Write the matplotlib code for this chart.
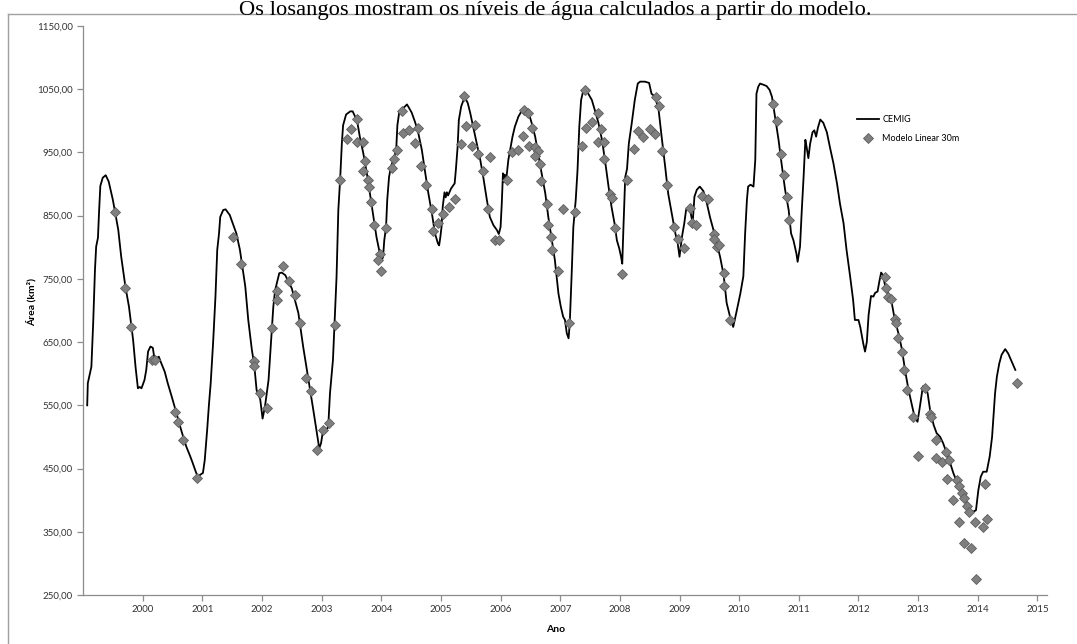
import matplotlib
matplotlib.use("Agg")
import matplotlib.pyplot as plt
from matplotlib.lines import Line2D
from matplotlib.ticker import FuncFormatter

# nível do reservatório (área inundada) - série CEMIG
cemig_ano = [
    1999.07, 1999.08, 1999.14, 1999.17, 1999.20, 1999.22, 1999.25, 1999.27, 1999.29, 1999.33,
    1999.38, 1999.43, 1999.50, 1999.59, 1999.64, 1999.71, 1999.77, 1999.84, 1999.88, 1999.92,
    1999.95, 1999.98, 2000.01, 2000.03, 2000.06, 2000.09, 2000.13, 2000.17, 2000.20, 2000.24,
    2000.27, 2000.31, 2000.37, 2000.42, 2000.48, 2000.55, 2000.62, 2000.68, 2000.73, 2000.79,
    2000.83, 2000.89, 2000.93, 2000.96, 2001.01, 2001.04, 2001.08, 2001.11, 2001.14, 2001.18,
    2001.22, 2001.25, 2001.28, 2001.30, 2001.35, 2001.39, 2001.46, 2001.51, 2001.57, 2001.63,
    2001.68, 2001.72, 2001.77, 2001.83, 2001.87, 2001.91, 2001.97, 2002.01, 2002.05, 2002.11,
    2002.15, 2002.19, 2002.22, 2002.29, 2002.33, 2002.39, 2002.50, 2002.61, 2002.69, 2002.78,
    2002.86, 2002.92, 2002.96, 2002.99, 2003.02, 2003.06, 2003.11, 2003.14, 2003.19, 2003.25,
    2003.28, 2003.31, 2003.34, 2003.36, 2003.41, 2003.48, 2003.52, 2003.56, 2003.60, 2003.64,
    2003.70, 2003.76, 2003.81, 2003.87, 2003.92, 2003.97, 2004.01, 2004.03, 2004.05, 2004.08,
    2004.10, 2004.13, 2004.16, 2004.20, 2004.25, 2004.27, 2004.30, 2004.34, 2004.40, 2004.43,
    2004.45, 2004.51, 2004.57, 2004.62, 2004.68, 2004.73, 2004.79, 2004.85, 2004.90, 2004.95,
    2004.97, 2004.99, 2005.01, 2005.03, 2005.06, 2005.08, 2005.10, 2005.12, 2005.17, 2005.23,
    2005.25, 2005.28, 2005.30, 2005.34, 2005.38, 2005.40, 2005.45, 2005.49, 2005.54, 2005.60,
    2005.66, 2005.71, 2005.77, 2005.82, 2005.88, 2005.94, 2005.97, 2006.00, 2006.02, 2006.04,
    2006.05, 2006.07, 2006.09, 2006.13, 2006.16, 2006.20, 2006.24, 2006.30, 2006.35, 2006.41,
    2006.47, 2006.52, 2006.58, 2006.63, 2006.69, 2006.75, 2006.80, 2006.86, 2006.91, 2006.97,
    2007.01, 2007.05, 2007.08, 2007.11, 2007.14, 2007.16, 2007.19, 2007.22, 2007.26, 2007.29,
    2007.32, 2007.35, 2007.39, 2007.43, 2007.47, 2007.53, 2007.58, 2007.64, 2007.70, 2007.75,
    2007.81, 2007.86, 2007.91, 2007.95, 2007.99, 2008.02, 2008.04, 2008.06, 2008.09, 2008.12,
    2008.15, 2008.20, 2008.25, 2008.30, 2008.34, 2008.42, 2008.49, 2008.53, 2008.59, 2008.65,
    2008.70, 2008.76, 2008.81, 2008.87, 2008.93, 2008.97, 2009.00, 2009.04, 2009.08, 2009.11,
    2009.15, 2009.19, 2009.22, 2009.25, 2009.29, 2009.34, 2009.40, 2009.46, 2009.51, 2009.57,
    2009.62, 2009.68, 2009.74, 2009.79, 2009.85, 2009.90, 2009.96, 2010.02, 2010.07, 2010.10,
    2010.13, 2010.15, 2010.19, 2010.24, 2010.27, 2010.29, 2010.32, 2010.35, 2010.41, 2010.46,
    2010.51, 2010.55, 2010.60, 2010.66, 2010.71, 2010.77, 2010.83, 2010.87, 2010.91, 2010.96,
    2010.98, 2011.02, 2011.05, 2011.08, 2011.11, 2011.13, 2011.16, 2011.19, 2011.23, 2011.26,
    2011.29, 2011.32, 2011.36, 2011.41, 2011.47, 2011.52, 2011.58, 2011.64, 2011.69, 2011.75,
    2011.80, 2011.86, 2011.91, 2011.94, 2012.00, 2012.03, 2012.06, 2012.08, 2012.11, 2012.14,
    2012.17, 2012.21, 2012.25, 2012.28, 2012.32, 2012.35, 2012.38, 2012.41, 2012.45, 2012.50,
    2012.56, 2012.61, 2012.67, 2012.73, 2012.78, 2012.84, 2012.89, 2012.94, 2012.99, 2013.03,
    2013.08, 2013.12, 2013.16, 2013.20, 2013.26, 2013.31, 2013.37, 2013.42, 2013.48, 2013.54,
    2013.59, 2013.65, 2013.70, 2013.76, 2013.82, 2013.87, 2013.93, 2013.97, 2014.01, 2014.05,
    2014.09, 2014.15, 2014.20, 2014.24, 2014.26, 2014.29, 2014.32, 2014.36, 2014.40, 2014.46,
    2014.51, 2014.57, 2014.63,
]
cemig_area = [
    550, 585, 611, 680, 764, 801, 815, 859, 897, 910,
    914, 904, 875, 828, 785, 738, 706, 653, 611, 577,
    579, 577, 585, 590, 606, 635, 643, 641, 622, 625,
    627, 617, 603, 585, 566, 543, 519, 500, 485, 471,
    461, 445, 435, 440, 443, 463, 510, 550, 585, 648,
    722, 796, 822, 848, 859, 860, 851, 838, 822, 796,
    764, 738, 685, 638, 614, 574, 560, 529, 548, 590,
    648, 706, 732, 759, 760, 756, 735, 696, 643, 590,
    543, 506, 482, 490, 508, 511, 515, 569, 622, 753,
    859, 907, 966, 993, 1010, 1015, 1015, 1007, 997, 975,
    948, 916, 885, 848, 816, 793, 780, 785, 811, 832,
    875, 911, 927, 938, 954, 993, 1013, 1018, 1023, 1026,
    1023, 1013, 997, 981, 954, 922, 885, 853, 822, 806,
    803, 816, 832, 864, 887, 879, 887, 882, 893, 901,
    922, 959, 1001, 1023, 1033, 1038, 1028, 1013, 991, 965,
    938, 911, 875, 848, 835, 827, 821, 832, 869, 917,
    903, 915, 903, 938, 954, 975, 991, 1007, 1015, 1020,
    1013, 997, 975, 948, 916, 885, 848, 811, 780, 727,
    706, 690, 685, 664, 656, 680, 753, 832, 875, 922,
    991, 1033, 1049, 1050, 1043, 1033, 1017, 997, 970, 938,
    896, 864, 838, 811, 798, 785, 774, 832, 911, 924,
    964, 997, 1033, 1059, 1062, 1062, 1060, 1043, 1038, 1017,
    975, 927, 885, 853, 822, 806, 785, 816, 838, 859,
    864, 853, 838, 880, 891, 896, 889, 869, 848, 827,
    808, 785, 756, 712, 689, 674, 700, 727, 754, 822,
    875, 896, 899, 896, 938, 1043, 1054, 1059, 1057, 1055,
    1049, 1038, 1007, 970, 933, 891, 859, 822, 811, 790,
    777, 801, 859, 911, 970, 959, 941, 964, 982, 985,
    975, 989, 1002, 997, 982, 959, 933, 901, 869, 838,
    796, 754, 717, 685, 685, 674, 658, 648, 635, 650,
    693, 723, 722, 728, 730, 746, 760, 756, 738, 727,
    711, 685, 664, 638, 606, 574, 553, 532, 524, 548,
    580, 580, 569, 543, 519, 506, 500, 490, 474, 458,
    443, 429, 419, 408, 395, 384, 382, 384, 416, 437,
    445, 445, 469, 500, 527, 569, 595, 616, 630, 639,
    632, 619, 606,
]

# estimativas do modelo linear (resolução 30 m)
modelo_ano = [
    1999.53, 1999.71, 1999.81, 2000.15, 2000.20, 2000.55, 2000.59, 2000.68, 2000.91, 2001.51,
    2001.64, 2001.86, 2001.87, 2001.97, 2002.08, 2002.16, 2002.26, 2002.26, 2002.35, 2002.46,
    2002.55, 2002.64, 2002.74, 2002.82, 2002.93, 2003.03, 2003.13, 2003.22, 2003.31, 2003.42,
    2003.50, 2003.60, 2003.60, 2003.69, 2003.73, 2003.69, 2003.77, 2003.80, 2003.83, 2003.88,
    2003.98, 2003.95, 2004.00, 2004.08, 2004.18, 2004.21, 2004.27, 2004.34, 2004.37, 2004.47,
    2004.57, 2004.61, 2004.67, 2004.75, 2004.85, 2004.87, 2004.95, 2005.04, 2005.14, 2005.24,
    2005.34, 2005.39, 2005.42, 2005.52, 2005.57, 2005.62, 2005.71, 2005.82, 2005.79, 2005.90,
    2005.97, 2006.10, 2006.19, 2006.30, 2006.39, 2006.46, 2006.38, 2006.48, 2006.53, 2006.58,
    2006.62, 2006.58, 2006.66, 2006.68, 2006.77, 2006.80, 2006.85, 2006.86, 2006.96, 2007.05,
    2007.15, 2007.25, 2007.36, 2007.42, 2007.44, 2007.54, 2007.63, 2007.64, 2007.68, 2007.74,
    2007.73, 2007.84, 2007.86, 2007.92, 2008.03, 2008.12, 2008.23, 2008.31, 2008.39, 2008.51,
    2008.59, 2008.61, 2008.65, 2008.70, 2008.79, 2008.90, 2008.98, 2009.08, 2009.18, 2009.21,
    2009.27, 2009.37, 2009.47, 2009.57, 2009.57, 2009.62, 2009.66, 2009.74, 2009.74, 2009.85,
    2010.56, 2010.63, 2010.70, 2010.75, 2010.80, 2010.84, 2012.45, 2012.46, 2012.50, 2012.54,
    2012.61, 2012.63, 2012.67, 2012.73, 2012.77, 2012.82, 2012.92, 2013.00, 2013.12, 2013.20,
    2013.21, 2013.30, 2013.30, 2013.40, 2013.47, 2013.51, 2013.49, 2013.59, 2013.65, 2013.68,
    2013.73, 2013.77, 2013.82, 2013.86, 2013.69, 2013.96, 2013.77, 2013.88, 2013.97, 2014.08,
    2014.16, 2014.12, 2014.65,
]
modelo_area = [
    856, 735, 674, 622, 621, 539, 524, 495, 435, 816,
    774, 620, 613, 570, 546, 673, 731, 717, 770, 747,
    724, 680, 593, 573, 480, 511, 522, 677, 907, 971,
    987, 1003, 966, 966, 937, 921, 906, 895, 872, 836,
    790, 780, 763, 831, 926, 939, 954, 1015, 981, 985,
    965, 989, 929, 898, 860, 826, 839, 853, 864, 877,
    964, 1039, 992, 960, 994, 947, 921, 943, 861, 811,
    811, 906, 951, 954, 1017, 1012, 976, 960, 989, 958,
    952, 944, 931, 905, 869, 836, 817, 796, 763, 861,
    681, 856, 960, 1049, 989, 998, 1013, 966, 987, 966,
    939, 885, 878, 831, 757, 906, 955, 984, 975, 987,
    979, 1037, 1023, 953, 899, 832, 813, 799, 862, 838,
    836, 881, 876, 821, 813, 801, 804, 759, 738, 685,
    1026, 1000, 948, 914, 880, 843, 753, 735, 722, 718,
    686, 680, 657, 635, 606, 575, 532, 470, 578, 536,
    532, 495, 466, 461, 476, 464, 434, 400, 432, 422,
    412, 404, 390, 381, 366, 366, 333, 324, 276, 357,
    370, 425, 585,
]

y_ticks = [250, 350, 450, 550, 650, 750, 850, 950, 1050, 1150]
x_ticks = list(range(2000, 2016))

fig = plt.figure(figsize=(10.77, 6.44), dpi=100)
ax = fig.add_axes([0.0771, 0.0761, 0.8950, 0.8835])

ax.plot(cemig_ano, cemig_area, color="black", lw=1.3, label="CEMIG", zorder=2)
ax.plot(modelo_ano, modelo_area, ls="none", marker="D", ms=5.2,
        mfc="#7f7f7f", mec="#5f5f5f", mew=0.6, label="Modelo Linear 30m", zorder=3)

ax.set_xlim(1999.0, 2015.16)
ax.set_ylim(250, 1150)
ax.set_yticks(y_ticks)
ax.set_xticks(x_ticks)
ax.yaxis.set_major_formatter(FuncFormatter(lambda v, p: f"{v:.2f}".replace(".", ",")))
ax.xaxis.set_major_formatter(FuncFormatter(lambda v, p: f"{int(v)}"))

for s in ["top", "right"]:
    ax.spines[s].set_visible(False)
for s in ["left", "bottom"]:
    ax.spines[s].set_color("#8c8c8c")
    ax.spines[s].set_linewidth(0.9)
ax.tick_params(axis="both", colors="#8c8c8c", length=4, width=0.9,
               labelsize=7, labelcolor="#333333")
for lab in ax.get_xticklabels() + ax.get_yticklabels():
    lab.set_fontfamily("Lato")

ax.set_xlabel("Ano", fontsize=7.5, fontweight="bold", family="Lato")
ax.xaxis.set_label_coords(0.49, -0.052)
ax.set_ylabel("Área (km²)", fontsize=7.5, fontweight="bold", family="Lato")
ax.yaxis.set_label_coords(-0.048, 0.515)

ax.legend(loc="upper left", bbox_to_anchor=(0.7886, 0.834), bbox_transform=fig.transFigure,
          frameon=False, handlelength=2.4, handletextpad=0.35,
          labelspacing=1.15, prop={"family": "Lato", "size": 6.5})

# moldura da área do gráfico
fig.add_artist(Line2D([8 / 1077, 8 / 1077], [0, 1 - 14 / 644], transform=fig.transFigure,
                      color="#a0a0a0", lw=1.0))
fig.add_artist(Line2D([8 / 1077, 1], [1 - 14 / 644, 1 - 14 / 644], transform=fig.transFigure,
                      color="#a0a0a0", lw=1.0))

fig.text(0.516, 1 - 15 / 644, "Os losangos mostram os níveis de água calculados a partir do modelo.",
         ha="center", va="baseline", fontsize=16.2, family="Liberation Serif", color="black")

fig.savefig("out.png", dpi=100, facecolor="white")
